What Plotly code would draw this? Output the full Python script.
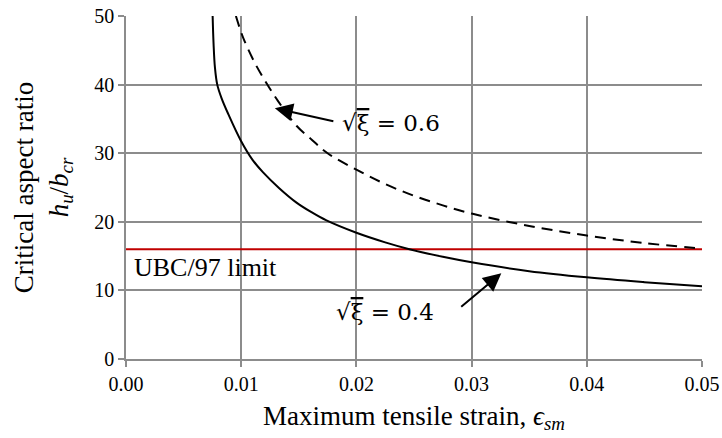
import plotly.graph_objects as go

# Solid curve: sqrt(xi) = 0.4
strain_04 = [0.00752, 0.00760, 0.00772, 0.00792, 0.0083, 0.00888, 0.00995, 0.0110, 0.0119,
             0.0133, 0.0148, 0.0161, 0.0174, 0.0200, 0.0225, 0.0246, 0.0275, 0.0300,
             0.0350, 0.0400, 0.0450, 0.0500]
ratio_04 = [50.0, 46.0, 42.5, 40.0, 38.0, 35.7, 31.9, 29.0, 27.2,
            24.9, 22.8, 21.4, 20.2, 18.4, 17.0, 16.0, 14.9, 14.1,
            12.8, 11.9, 11.2, 10.6]

# Dashed curve: sqrt(xi) = 0.6
strain_06 = [0.00954, 0.0100, 0.0103, 0.0112, 0.0122, 0.0132, 0.0148, 0.0161, 0.0175,
             0.0200, 0.0225, 0.0250, 0.0275, 0.0300, 0.0350, 0.0400, 0.0450, 0.0500]
ratio_06 = [50.0, 47.6, 46.3, 43.1, 40.2, 37.6, 34.0, 32.0, 30.0,
            27.6, 25.5, 23.8, 22.4, 21.2, 19.4, 18.0, 16.9, 16.1]

# UBC/97 limit
ubc_x = [0.0, 0.05]
ubc_y = [16.0, 16.0]

x_ticks = [0.00, 0.01, 0.02, 0.03, 0.04, 0.05]
y_ticks = [0, 10, 20, 30, 40, 50]

SERIF = "Liberation Serif, Times New Roman, serif"
GRID = "#8c8c8c"

fig = go.Figure()
fig.add_trace(go.Scatter(x=ubc_x, y=ubc_y, mode="lines",
                         line=dict(color="#C00000", width=2), showlegend=False))
fig.add_trace(go.Scatter(x=strain_06, y=ratio_06, mode="lines", line_shape="spline",
                         line=dict(color="black", width=2, dash="11px,7px"), showlegend=False))
fig.add_trace(go.Scatter(x=strain_04, y=ratio_04, mode="lines", line_shape="spline",
                         line=dict(color="black", width=2), showlegend=False))

sqrt_06 = "√<span style='text-decoration:overline'>ξ</span> = 0.6"
sqrt_04 = "√<span style='text-decoration:overline'>ξ</span> = 0.4"

fig.add_annotation(x=0.02302, y=34.4, text=sqrt_06, showarrow=False,
                   font=dict(family="DejaVu Serif", size=23, color="black"))
fig.add_annotation(x=0.02246, y=6.85, text=sqrt_04, showarrow=False,
                   font=dict(family="DejaVu Serif", size=23, color="black"))
fig.add_annotation(x=0.01292, y=36.55, ax=0.01813, ay=34.6, axref="x", ayref="y",
                   text="", showarrow=True, arrowhead=2, arrowsize=1.8, arrowwidth=2,
                   arrowcolor="black")
fig.add_annotation(x=0.03258, y=12.49, ax=0.02897, ay=7.43, axref="x", ayref="y",
                   text="", showarrow=True, arrowhead=2, arrowsize=1.8, arrowwidth=2,
                   arrowcolor="black")
fig.add_annotation(x=0.00052, y=13.3, text="UBC/97 limit", showarrow=False,
                   xanchor="left", yanchor="middle",
                   font=dict(family=SERIF, size=26, color="black"))

fig.update_xaxes(range=[0, 0.05], tickvals=x_ticks, tickformat=".2f",
                 showgrid=True, gridcolor=GRID, gridwidth=1.5,
                 showline=True, linecolor=GRID, linewidth=1.5,
                 ticks="outside", ticklen=6, tickcolor=GRID, tickwidth=1.5,
                 zeroline=False, automargin=False,
                 tickfont=dict(family=SERIF, size=20, color="black"),
                 title=dict(text="Maximum tensile strain, <i>ϵ<sub>sm</sub></i>",
                            font=dict(family=SERIF, size=27, color="black"), standoff=12))
fig.update_yaxes(range=[0, 50], tickvals=y_ticks,
                 showgrid=True, gridcolor=GRID, gridwidth=1.5,
                 showline=True, linecolor=GRID, linewidth=1.5,
                 ticks="outside", ticklen=6, tickcolor=GRID, tickwidth=1.5,
                 zeroline=False, automargin=False,
                 tickfont=dict(family=SERIF, size=20, color="black"),
                 title=dict(text="Critical aspect ratio<br><i>h<sub>u</sub></i>/<i>b<sub>cr</sub></i>",
                            font=dict(family=SERIF, size=27, color="black"), standoff=18))

fig.update_layout(width=722, height=438, margin=dict(l=126, r=19.5, t=16, b=79),
                  paper_bgcolor="white", plot_bgcolor="white")

fig.write_html("out.html")
